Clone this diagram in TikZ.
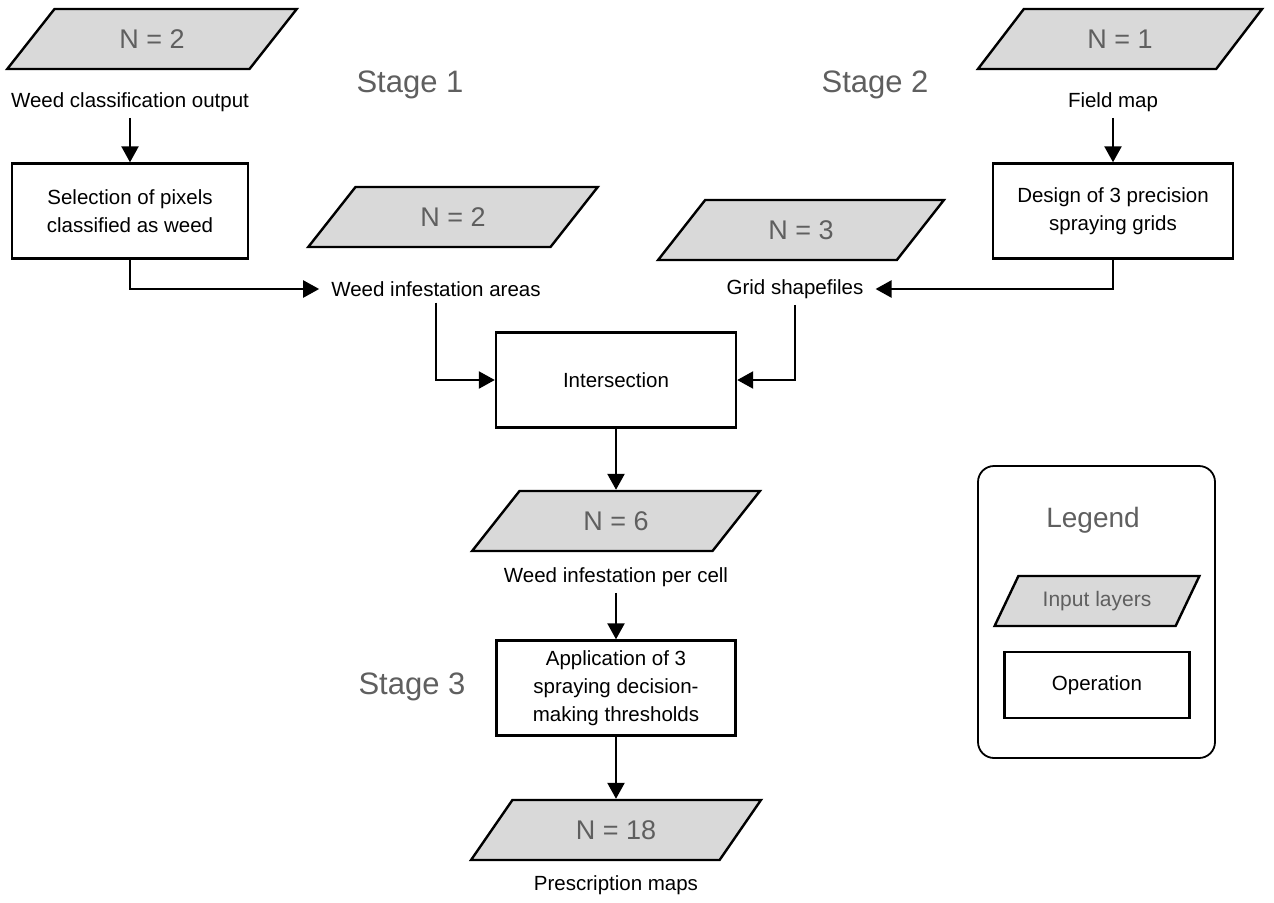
\documentclass[tikz,border=0pt]{standalone}
\usepackage{fontspec}
\setmainfont{Liberation Sans}
\usetikzlibrary{shapes.geometric,arrows.meta,positioning}
\definecolor{layerfill}{RGB}{217,217,217}
\definecolor{labelgray}{RGB}{95,95,95}

\begin{document}
\begin{tikzpicture}[x=1pt,y=-1pt,
  layer/.style={trapezium, trapezium left angle=50, trapezium right angle=130,
    trapezium stretches=true, draw, line width=2.4pt, fill=layerfill,
    minimum width=290pt, minimum height=60pt, inner sep=0pt,
    text=labelgray, font=\fontsize{27}{32}\selectfont},
  operation/.style={rectangle, draw, line width=2.4pt, minimum width=240pt,
    minimum height=95pt, align=center, font=\fontsize{20.5}{28}\selectfont},
  caption/.style={inner xsep=12pt, inner ysep=6pt, font=\fontsize{20.5}{24}\selectfont},
  stage/.style={text=labelgray, font=\fontsize{31}{36}\selectfont},
  flow/.style={line width=2.4pt, -{Triangle[length=16pt,width=17pt]}}]
\useasboundingbox (0,0) rectangle (1274,902);

% stage 1
\node[layer] (cls) at (152,39) {N = 2};
\node[caption] (clsout) at (130,102) {Weed classification output};
\node[operation, minimum width=236pt] (select) at (130,211) {Selection of pixels\\classified as weed};
\node[stage] (st1) at (410,85) {Stage 1};
\node[layer] (areasin) at (453,217) {N = 2};
\node[caption] (areas) at (436,289) {Weed infestation areas};

% stage 2
\node[layer, minimum width=286pt] (field) at (1120,39) {N = 1};
\node[caption] (fieldout) at (1113,102) {Field map};
\node[operation] (design) at (1113,211) {Design of 3 precision\\spraying grids};
\node[stage] (st2) at (875,85) {Stage 2};
\node[layer, minimum width=288pt] (gridin) at (801,230) {N = 3};
\node[caption] (grid) at (795,289) {Grid shapefiles};

\node[operation] (inter) at (616,380) {Intersection};

% stage 3
\node[layer] (cell) at (616,521) {N = 6};
\node[caption] (cellout) at (616,577) {Weed infestation per cell};
\node[operation, minimum width=239pt] (thresh) at (616,688) {Application of 3\\spraying decision-\\making thresholds};
\node[stage] (st3) at (412,687) {Stage 3};
\node[layer] (maps) at (616,830) {N = 18};
\node[caption] (mapsout) at (616,885) {Prescription maps};

% legend
\draw[line width=1.8pt, rounded corners=16pt] (978,466) rectangle (1215,758);
\node[text=labelgray, font=\fontsize{28}{32}\selectfont] (legtitle) at (1093,520) {Legend};
\node[layer, minimum width=205pt, minimum height=50pt, font=\fontsize{21}{24}\selectfont] (leglayer) at (1097,601) {Input layers};
\node[operation, minimum width=185pt, minimum height=66pt] (legop) at (1097,685) {Operation};

% connectors
\draw[flow] (clsout) -- (select);
\draw[flow] (select.south) |- (areas.west);
\draw[flow] (fieldout) -- (design);
\draw[flow] (design.south) |- (grid.east);
\draw[flow] (areas.south) |- (inter.west);
\draw[flow] (grid.south) |- (inter.east);
\draw[flow] (inter) -- (cell);
\draw[flow] (cellout) -- (thresh);
\draw[flow] (thresh) -- (maps);
\end{tikzpicture}
\end{document}
